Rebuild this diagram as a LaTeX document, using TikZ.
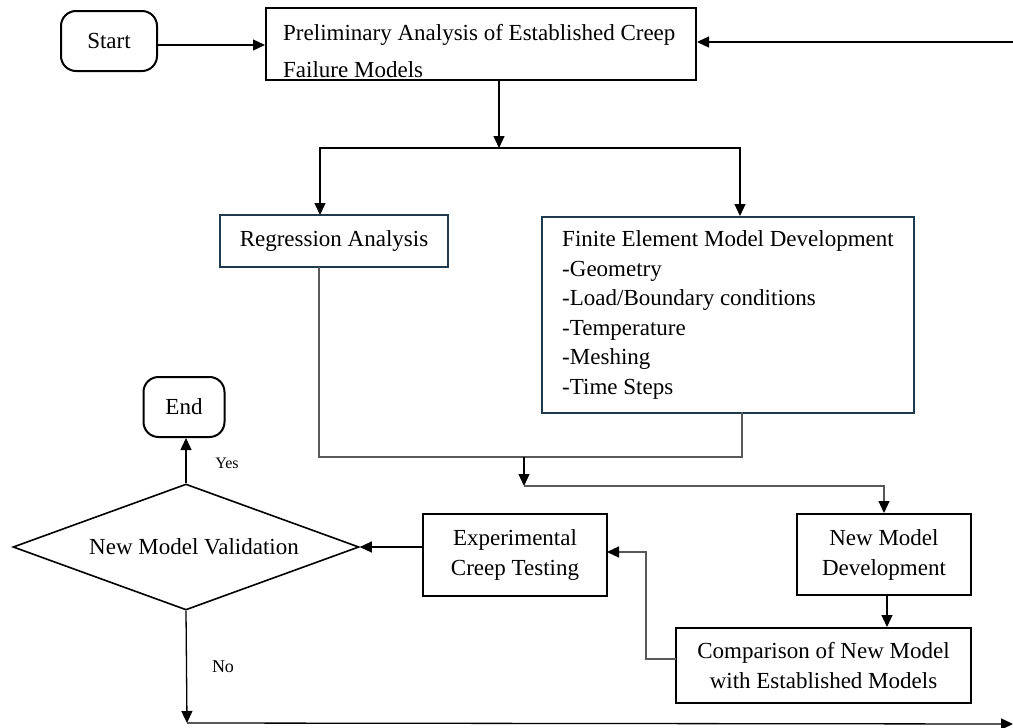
\documentclass[tikz,border=0pt]{standalone}
\usepackage{fontspec}
\setmainfont{Liberation Serif}
\usetikzlibrary{shapes.geometric,arrows.meta}
\definecolor{navy}{HTML}{1F3A4C}
\definecolor{lgray}{HTML}{595959}
\tikzset{
  box/.style={draw=black, line width=2pt, rectangle, inner sep=0pt, align=center,
    font=\fontsize{23}{30}\selectfont},
  nbox/.style={box, draw=navy},
  term/.style={box, rounded corners=15pt},
  txt/.style={inner sep=0pt, font=\fontsize{23}{37}\selectfont},
  conn/.style={line width=1.3pt, draw=black},
  gconn/.style={line width=1.3pt, draw=lgray},
  arr/.style={conn, -{Triangle[length=12pt,width=11pt]}},
  garr/.style={gconn, -{Triangle[length=12pt,width=11pt,color=black]}},
  lbl/.style={inner sep=0pt},
}
\begin{document}
\begin{tikzpicture}[x=1pt,y=-1pt]
\useasboundingbox (0,0) rectangle (1013,728);
% nodes
\node[term, minimum width=96pt, minimum height=60pt] (start) at (109,41) {Start};
\node[box, minimum width=430pt, minimum height=72pt] (prelim) at (481,44) {};
\node[txt, anchor=west, align=left] (prelimT) at (283,51) {Preliminary Analysis of Established Creep\\Failure Models};
\node[nbox, minimum width=228pt, minimum height=52pt] (reg) at (334,241) {Regression Analysis};
\node[nbox, minimum width=372pt, minimum height=196pt, align=left, font=\fontsize{23}{29.5}\selectfont] (fe) at (728,315)
  {Finite Element Model Development\\-Geometry\\-Load/Boundary conditions\\-Temperature\\-Meshing\\-Time Steps};
\node[term, minimum width=81pt, minimum height=60pt] (end) at (184,407) {End};
\node[box, diamond, aspect=2.746, minimum width=346pt, minimum height=126pt, line width=1.6pt] (dia) at (186,547) {\hspace*{16pt}New Model Validation};
\node[box, minimum width=184pt, minimum height=82pt] (exp) at (515,555) {Experimental\\Creep Testing};
\node[box, minimum width=174pt, minimum height=81pt] (nmd) at (884,554.5) {New Model\\Development};
\node[box, minimum width=295pt, minimum height=75pt] (comp) at (823.5,665.5) {Comparison of New Model\\with Established Models};
% coordinates
\coordinate (rtop) at (1013,42);
\coordinate (split) at (499,148);
\coordinate (regin) at (320,215);
\coordinate (fein) at (740,216);
\coordinate (regout) at (319,267);
\coordinate (feout) at (742,412);
\coordinate (j1) at (524,457);
\coordinate (j2) at (524,486);
\coordinate (compout) at (676,659);
\coordinate (bend) at (646,659);
\coordinate (expin) at (607,552);
\coordinate (bot) at (187,723);
\coordinate (rbot) at (1013,724);
% connectors
\draw[arr] (start.east |- 0,45) -- (prelim.west |- 0,45);
\draw[arr] (rtop) -- (rtop -| prelim.east);
\draw[arr] (prelim.south -| split) -- (split);
\draw[arr] (split) -| (regin);
\draw[arr] (split) -| (fein);
\draw[gconn] (regout) |- (j1) -| (feout);
\draw[arr] (j1) -- (j2);
\draw[garr] (j2) -| (nmd.north);
\draw[arr] (nmd.south -| 887,0) -- (comp.north -| 887,0);
\draw[garr] (compout) -- (bend) |- (expin);
\draw[arr] (exp.west |- dia.east) -- (dia.east);
\draw[arr] (dia.north) -- (dia.north |- end.south);
\draw[arr] (dia.south) -- (bot);
\draw[arr] (bot) -- (rbot);
% labels
\node[lbl, font=\fontsize{16}{16}\selectfont] (yes) at (227,463) {Yes};
\node[lbl, font=\fontsize{18}{18}\selectfont] (no) at (223,667) {No};
\end{tikzpicture}
\end{document}
